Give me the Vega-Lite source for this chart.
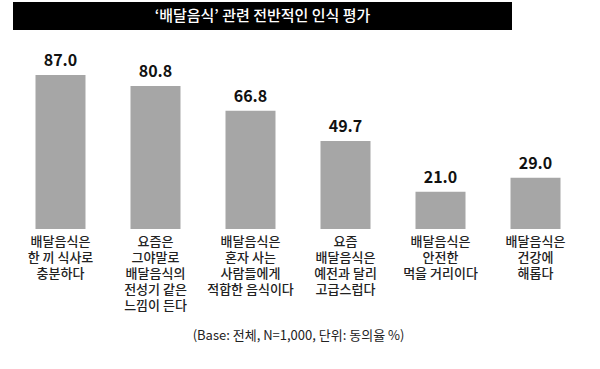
{
  "$schema": "https://vega.github.io/schema/vega-lite/v6.json",
  "background": "white",
  "padding": {"left": 13, "top": 2, "right": 5, "bottom": 5},
  "spacing": 22,
  "config": {
    "font": "Noto Sans CJK KR",
    "view": {"stroke": null}
  },
  "vconcat": [
    {
      "width": 499,
      "height": 28,
      "view": {"fill": "black", "stroke": null},
      "data": {"values": [{"t": "‘배달음식’ 관련 전반적인 인식 평가"}]},
      "mark": {"type": "text", "color": "white", "fontSize": 15, "fontWeight": 500, "font": "Noto Sans CJK KR", "baseline": "middle", "align": "center"},
      "encoding": {"text": {"field": "t"}}
    },
    {
      "width": 570,
      "height": 177,
      "data": {"values": [
        {"label": "배달음식은|한 끼 식사로|충분하다", "value": 87.0, "txt": "87.0"},
        {"label": "요즘은|그야말로|배달음식의|전성기 같은|느낌이 든다", "value": 80.8, "txt": "80.8"},
        {"label": "배달음식은|혼자 사는|사람들에게|적합한 음식이다", "value": 66.8, "txt": "66.8"},
        {"label": "요즘|배달음식은|예전과 달리|고급스럽다", "value": 49.7, "txt": "49.7"},
        {"label": "배달음식은|안전한|먹을 거리이다", "value": 21.0, "txt": "21.0"},
        {"label": "배달음식은|건강에|해롭다", "value": 29.0, "txt": "29.0"}
      ]},
      "encoding": {
        "x": {
          "field": "label", "type": "nominal", "sort": null,
          "scale": {"paddingInner": 0.4737, "paddingOuter": 0.2368},
          "axis": {
            "title": "(Base: 전체, N=1,000, 단위: 동의율 %)",
            "titleFontSize": 13, "titleFontWeight": "normal", "titleColor": "#222", "titlePadding": 17,
            "labelExpr": "split(datum.label, '|')",
            "labelAngle": 0, "labelFontSize": 13, "labelLineHeight": 16, "labelColor": "#222", "labelFontWeight": 500,
            "labelPadding": 6, "labelOverlap": false, "labelBound": false,
            "ticks": false, "domain": false, "grid": false
          }
        },
        "y": {"field": "value", "type": "quantitative", "scale": {"domain": [0, 100]}, "axis": null}
      },
      "layer": [
        {"mark": {"type": "bar", "color": "#a6a6a6"}},
        {"mark": {"type": "text", "baseline": "bottom", "dy": -6, "fontSize": 16, "fontWeight": "bold", "color": "#111"},
         "encoding": {"text": {"field": "txt"}}}
      ]
    }
  ]
}
